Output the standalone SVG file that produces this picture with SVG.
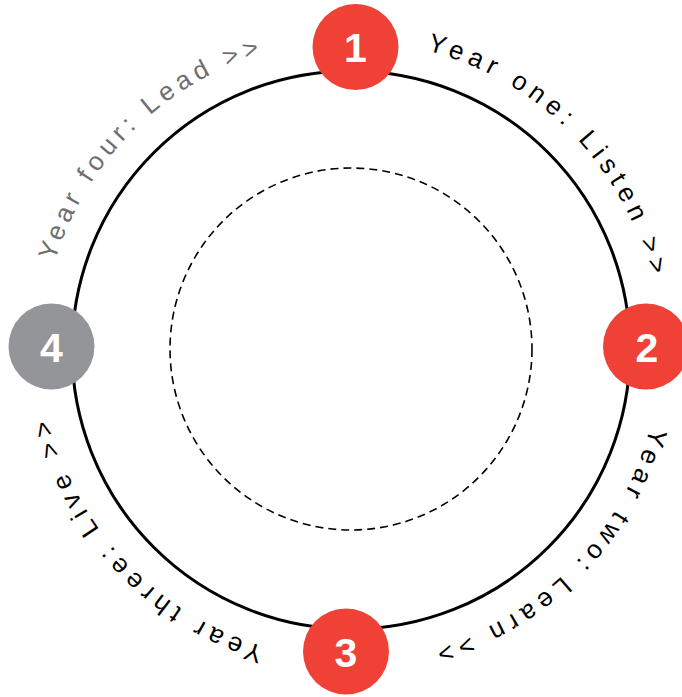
<svg xmlns="http://www.w3.org/2000/svg" width="682" height="697" viewBox="0 0 682 697">
  <style>
    .ring { fill: none; stroke: #000; stroke-width: 3; }
    .inner { fill: none; stroke: #000; stroke-width: 1.6; stroke-dasharray: 8 5; }
    .lbl { font-family: "Liberation Sans", Arial, sans-serif; font-size: 26px; letter-spacing: 6px; fill: #000; }
    .lbl.gray { fill: #6d6e71; letter-spacing: 5.2px; }
    .red { fill: #ef4136; }
    .grey { fill: #939598; }
    .num { font-family: "Liberation Sans", Arial, sans-serif; font-size: 41px; font-weight: bold; fill: #fff; text-anchor: middle; }
  </style>
  <defs>
    <path id="p1" d="M426.8,50.5 A309,309 0 0 1 650.5,425.8"/>
    <path id="p2" d="M650.1,427.4 A309,309 0 0 1 273.6,649.1"/>
    <path id="p3" d="M264.3,646.6 A309,309 0 0 1 54.4,263.3"/>
    <path id="p4" d="M55.0,261.2 A309,309 0 0 1 439.8,54.0"/>
  </defs>
  <g id="connectors">
    <circle class="ring" cx="351" cy="350" r="279"/>
    <circle class="inner" cx="351" cy="349" r="181"/>
  </g>
  <g id="labels">
    <text class="lbl"><textPath href="#p1">Year one: Listen &gt;&gt;</textPath></text>
    <text class="lbl"><textPath href="#p2">Year two: Learn &gt;&gt;</textPath></text>
    <text class="lbl"><textPath href="#p3">Year three: Live &gt;&gt;</textPath></text>
    <text class="lbl gray"><textPath href="#p4">Year four: Lead &gt;&gt;</textPath></text>
  </g>
  <g id="node1">
    <circle class="red" cx="355.5" cy="47" r="43"/>
    <text class="num" x="355.5" y="62">1</text>
  </g>
  <g id="node2">
    <circle class="red" cx="646" cy="346.5" r="43"/>
    <text class="num" x="647" y="361.5">2</text>
  </g>
  <g id="node3">
    <circle class="red" cx="346" cy="651.5" r="43"/>
    <text class="num" x="346" y="666.5">3</text>
  </g>
  <g id="node4">
    <circle class="grey" cx="51.5" cy="346.5" r="43"/>
    <text class="num" x="51.5" y="361.5">4</text>
  </g>
</svg>
